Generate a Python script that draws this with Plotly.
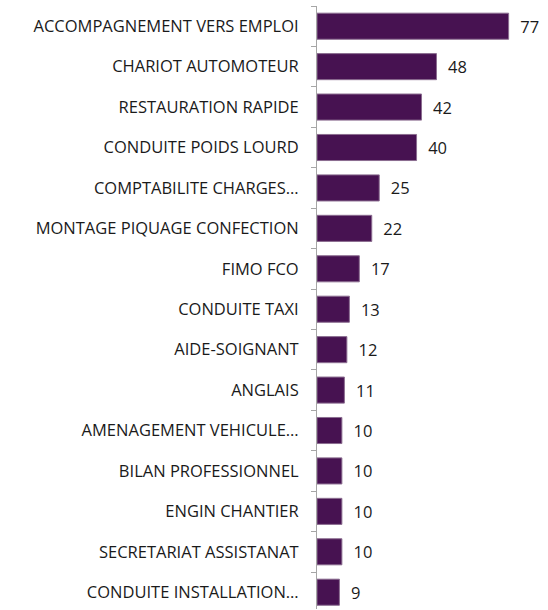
import plotly.graph_objects as go

categories = [
    "ACCOMPAGNEMENT VERS EMPLOI",
    "CHARIOT AUTOMOTEUR",
    "RESTAURATION RAPIDE",
    "CONDUITE POIDS LOURD",
    "COMPTABILITE CHARGES…",
    "MONTAGE PIQUAGE CONFECTION",
    "FIMO FCO",
    "CONDUITE TAXI",
    "AIDE-SOIGNANT",
    "ANGLAIS",
    "AMENAGEMENT VEHICULE…",
    "BILAN PROFESSIONNEL",
    "ENGIN CHANTIER",
    "SECRETARIAT ASSISTANAT",
    "CONDUITE INSTALLATION…",
]
values = [77, 48, 42, 40, 25, 22, 17, 13, 12, 11, 10, 10, 10, 10, 9]

fig = go.Figure(go.Bar(
    y=categories,
    x=values,
    orientation="h",
    marker=dict(color="#471251", line=dict(color="#8b6d90", width=1)),
    text=values,
    texttemplate="  %{x}",
    textposition="outside",
    textfont=dict(family="Open Sans, Arial", size=16.5, color="#1a1a1a"),
    cliponaxis=False,
    hoverinfo="skip",
))

fig.update_layout(
    width=548, height=610,
    margin=dict(l=317, r=7, t=6, b=1),
    paper_bgcolor="white", plot_bgcolor="white",
    bargap=0.355,
    showlegend=False,
    xaxis=dict(range=[0, 90], visible=False, fixedrange=True),
    yaxis=dict(
        range=[14.415, -0.5],
        automargin=False,
        fixedrange=True,
        showline=True, linecolor="#a6a6a6", linewidth=1,
        ticks="outside", tickson="boundaries", ticklen=5, tickcolor="#a6a6a6",
        tickfont=dict(family="Open Sans, Arial", size=16.5, color="#1a1a1a"),
        ticklabelstandoff=14,
        showgrid=False,
    ),
)

fig.write_html("out.html", config={"displayModeBar": False})

with open("out.html", "r", encoding="utf-8") as f:
    html = f.read()
html = html.replace("<body>", '<body style="margin:0;padding:0;">', 1)
with open("out.html", "w", encoding="utf-8") as f:
    f.write(html)
